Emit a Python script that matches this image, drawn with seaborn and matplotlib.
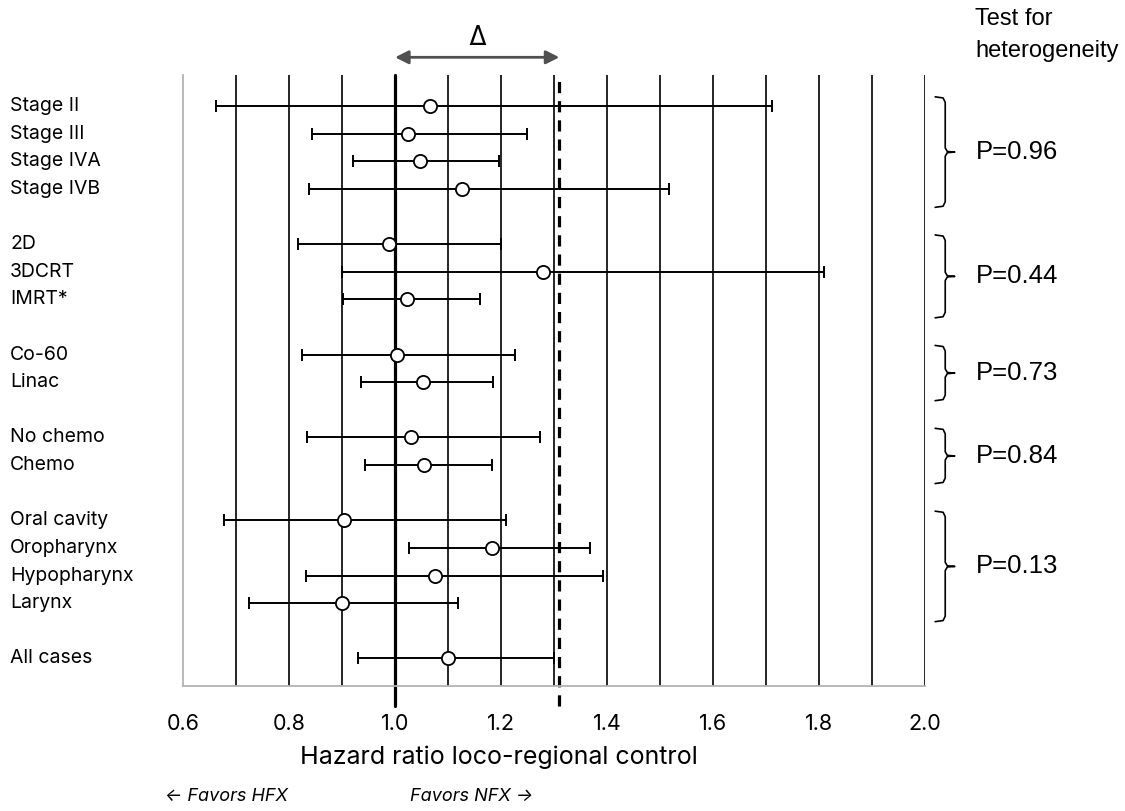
import numpy as np
import matplotlib.pyplot as plt
import seaborn as sns

# ---- data ----
group_labels = [
    ["Stage II", "Stage III", "Stage IVA", "Stage IVB"],
    ["2D", "3DCRT", "IMRT*"],
    ["Co-60", "Linac"],
    ["No chemo", "Chemo"],
    ["Oral cavity", "Oropharynx", "Hypopharynx", "Larynx"],
    ["All cases"],
]
hr = [1.066, 1.025, 1.047, 1.126,
      0.989, 1.279, 1.022,
      1.003, 1.052,
      1.030, 1.055,
      0.903, 1.183, 1.076, 0.899,
      1.099]
ci_low = [0.662, 0.844, 0.920, 0.837,
          0.816, 0.899, 0.902,
          0.824, 0.936,
          0.834, 0.944,
          0.678, 1.026, 0.832, 0.725,
          0.930]
ci_high = [1.711, 1.248, 1.196, 1.516,
           1.200, 1.810, 1.160,
           1.226, 1.185,
           1.273, 1.182,
           1.209, 1.368, 1.393, 1.119,
           1.299]
p_values = ["P=0.96", "P=0.44", "P=0.73", "P=0.84", "P=0.13"]
margin = 1.31
xticks = [0.6, 0.8, 1.0, 1.2, 1.4, 1.6, 1.8, 2.0]
grid_x = [0.7, 0.8, 0.9, 1.1, 1.2, 1.3, 1.4, 1.5, 1.6, 1.7, 1.8, 1.9, 2.0]

# row positions: one blank row between groups
labels, pos, group_rows = [], [], []
row = 0
for g in group_labels:
    rows = []
    for lab in g:
        labels.append(lab)
        pos.append(row)
        rows.append(row)
        row += 1
    group_rows.append(rows)
    row += 1
pos = np.array(pos)
hr = np.array(hr)
ci_low = np.array(ci_low)
ci_high = np.array(ci_high)

sns.set_style("white", {"text.color": "black", "xtick.color": "black"})
plt.rcParams['font.family'] = ['Inter', 'DejaVu Sans']
plt.rcParams['axes.labelcolor'] = 'black'

fig = plt.figure(figsize=(11.25, 8.11), dpi=100)
ax = fig.add_axes([0.1627, 0.1541, 0.6596, 0.7534])

for gx in grid_x:
    ax.axvline(gx, color="black", lw=1.2, zorder=1)
# reference line at 1 and non-inferiority margin
ax.axvline(1.0, ymin=-0.032, ymax=1, color="black", lw=2.3, zorder=2, clip_on=False)
ax.axvline(margin, ymin=-0.032, ymax=0.99, color="black", lw=2.3, ls=(0, (3.5, 2.5)),
           zorder=2, clip_on=False)

ax.errorbar(hr, pos, xerr=[hr - ci_low, ci_high - hr], fmt="none", ecolor="black",
            elinewidth=1.4, capsize=4.5, capthick=1.4, zorder=3)
sns.scatterplot(x=hr, y=pos, ax=ax, marker="o", s=90, color="white",
                edgecolor="black", linewidth=1.3, zorder=4)

ax.set_xlim(0.6, 2.0)
ax.set_ylim(21.0, -1.12)
ax.set_xticks(xticks)
ax.set_xticklabels([f"{t:.1f}" for t in xticks], fontsize=15.5, color="black")
ax.tick_params(axis="x", length=0, pad=20)
ax.set_yticks([])
ax.set_xlabel("Hazard ratio loco-regional control", fontsize=18, color="black")
ax.xaxis.set_label_coords(0.426, -0.098)

for side in ["top", "right"]:
    ax.spines[side].set_visible(False)
for side in ["left", "bottom"]:
    ax.spines[side].set_color("#b3b3b3")
    ax.spines[side].set_linewidth(1.3)

# row labels
for lab, p in zip(labels, pos):
    ax.text(-0.233, p, lab, transform=ax.get_yaxis_transform(), ha="left", va="center",
            fontsize=14, color="black")

# delta arrow
ax.annotate("", xy=(margin, 1.029), xytext=(1.0, 1.029),
            xycoords=("data", "axes fraction"), textcoords=("data", "axes fraction"),
            arrowprops=dict(arrowstyle="<|-|>", color="#505050", lw=2,
                            mutation_scale=20, shrinkA=0, shrinkB=0))
ax.text((1.0 + margin) / 2, 1.04, "Δ", transform=ax.get_xaxis_transform(),
        ha="center", va="bottom", fontsize=19, color="black")

# heterogeneity brackets
x0, x1, x2 = 2.019, 2.038, 2.056
for rows, ptxt in zip(group_rows[:5], p_values):
    top = rows[0] - 0.33
    bot = rows[-1] + 0.67
    mid = (top + bot) / 2
    bx = [x0, x1 - 0.004, x1, x1, x1 + 0.004, x2, x1 + 0.004, x1, x1, x1 - 0.004, x0]
    by = [top, top + 0.04, top + 0.2, mid - 0.15, mid - 0.02, mid,
          mid + 0.02, mid + 0.15, bot - 0.2, bot - 0.04, bot]
    ax.plot(bx, by, color="black", lw=1.2, clip_on=False)
    ax.text(2.095, mid, ptxt, ha="left", va="center", fontsize=18.5, color="black",
            family=["Liberation Sans", "DejaVu Sans"])

fig.text(0.867, 0.99, "Test for\nheterogeneity", ha="left", va="top", fontsize=17,
         linespacing=1.6, color="black", family=["Liberation Sans", "DejaVu Sans"])
fig.text(0.147, 0.018, "← Favors HFX", ha="left", va="center", fontsize=13,
         style="italic", color="black")
fig.text(0.364, 0.018, "Favors NFX →", ha="left", va="center", fontsize=13,
         style="italic", color="black")

plt.savefig("out.png", dpi=100)
